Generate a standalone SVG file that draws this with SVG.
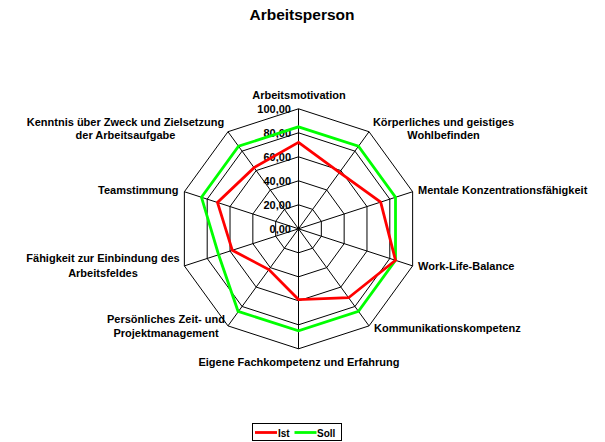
<svg xmlns="http://www.w3.org/2000/svg" width="605" height="442" viewBox="0 0 605 442">
<style>
text{font-family:"Liberation Sans",Arial,sans-serif;font-weight:bold;fill:#000}
.t{font-size:15.5px}
.l{font-size:11px}
.v{font-size:11px;text-anchor:end}
.lg{font-size:10px}
.grid{fill:none;stroke:#000;stroke-width:1}
.ist{fill:none;stroke:#ff0000;stroke-width:2.8;stroke-linejoin:miter}
.soll{fill:none;stroke:#00ff00;stroke-width:2.8;stroke-linejoin:miter}
</style>
<rect width="605" height="442" fill="#fff"/>
<text id="title" class="t" x="302" y="20" text-anchor="middle">Arbeitsperson</text>
<g id="grid">
<polygon class="grid" points="298.5,108.8 369.03,131.72 412.63,191.72 412.63,265.88 369.03,325.88 298.5,348.8 227.97,325.88 184.37,265.88 184.37,191.72 227.97,131.72"/>
<polygon class="grid" points="298.5,132.8 354.93,151.13 389.8,199.13 389.8,258.47 354.93,306.47 298.5,324.8 242.07,306.47 207.2,258.47 207.2,199.13 242.07,151.13"/>
<polygon class="grid" points="298.5,156.8 340.82,170.55 366.98,206.55 366.98,251.05 340.82,287.05 298.5,300.8 256.18,287.05 230.02,251.05 230.02,206.55 256.18,170.55"/>
<polygon class="grid" points="298.5,180.8 326.71,189.97 344.15,213.97 344.15,243.63 326.71,267.63 298.5,276.8 270.29,267.63 252.85,243.63 252.85,213.97 270.29,189.97"/>
<polygon class="grid" points="298.5,204.8 312.61,209.38 321.33,221.38 321.33,236.22 312.61,248.22 298.5,252.8 284.39,248.22 275.67,236.22 275.67,221.38 284.39,209.38"/>
<path class="grid" d="M298.5,228.8L298.5,108.8M298.5,228.8L369.03,131.72M298.5,228.8L412.63,191.72M298.5,228.8L412.63,265.88M298.5,228.8L369.03,325.88M298.5,228.8L298.5,348.8M298.5,228.8L227.97,325.88M298.5,228.8L184.37,265.88M298.5,228.8L184.37,191.72M298.5,228.8L227.97,131.72"/>
</g>
<g id="scale">
<text class="v" x="291" y="112.8">100,00</text>
<text class="v" x="291" y="136.8">80,00</text>
<text class="v" x="291" y="160.8">60,00</text>
<text class="v" x="291" y="184.8">40,00</text>
<text class="v" x="291" y="208.8">20,00</text>
<text class="v" x="291" y="232.8">0,00</text>
</g>
<g id="series">
<polygon id="soll" class="soll" points="298.5,126.8 358.45,146.28 395.51,197.28 395.51,260.32 358.45,311.32 298.5,330.8 238.05,311.32 218.61,254.76 201.49,197.28 238.55,146.28"/>
<polygon id="ist" class="ist" points="298.5,142.4 339.41,172.49 380.67,202.1 395.51,260.32 348.58,297.73 298.5,299.6 268.88,269.57 232.31,250.31 217.47,202.47 254.06,167.64"/>
</g>
<g id="labels">
<text id="a0" class="l" x="299" y="99" text-anchor="middle">Arbeitsmotivation</text>
<text id="a1" class="l" text-anchor="middle"><tspan x="443.5" y="126">Körperliches und geistiges</tspan><tspan x="443.5" y="139">Wohlbefinden</tspan></text>
<text id="a2" class="l" x="418" y="194">Mentale Konzentrationsfähigkeit</text>
<text id="a3" class="l" x="418" y="270">Work-Life-Balance</text>
<text id="a4" class="l" x="374" y="331.5">Kommunikationskompetenz</text>
<text id="a5" class="l" x="299" y="366" text-anchor="middle">Eigene Fachkompetenz und Erfahrung</text>
<text id="a6" class="l" text-anchor="middle"><tspan x="166" y="323.3">Persönliches Zeit- und</tspan><tspan x="166" y="337.3">Projektmanagement</tspan></text>
<text id="a7" class="l" text-anchor="middle"><tspan x="103" y="262.3">Fähigkeit zur Einbindung des</tspan><tspan x="103" y="276.6">Arbeitsfeldes</tspan></text>
<text id="a8" class="l" x="178.5" y="194" text-anchor="end">Teamstimmung</text>
<text id="a9" class="l" text-anchor="middle"><tspan x="125.5" y="126">Kenntnis über Zweck und Zielsetzung</tspan><tspan x="125.5" y="139">der Arbeitsaufgabe</tspan></text>
</g>
<g id="legend">
<rect x="252.5" y="423.5" width="89" height="17" fill="#fff" stroke="#000" stroke-width="1"/>
<line x1="255" y1="432.5" x2="277" y2="432.5" stroke="#ff0000" stroke-width="2.8"/>
<text class="lg" x="278" y="436.5">Ist</text>
<line x1="294.5" y1="432.5" x2="316.5" y2="432.5" stroke="#00ff00" stroke-width="2.8"/>
<text class="lg" x="317" y="436.5">Soll</text>
</g>
</svg>
